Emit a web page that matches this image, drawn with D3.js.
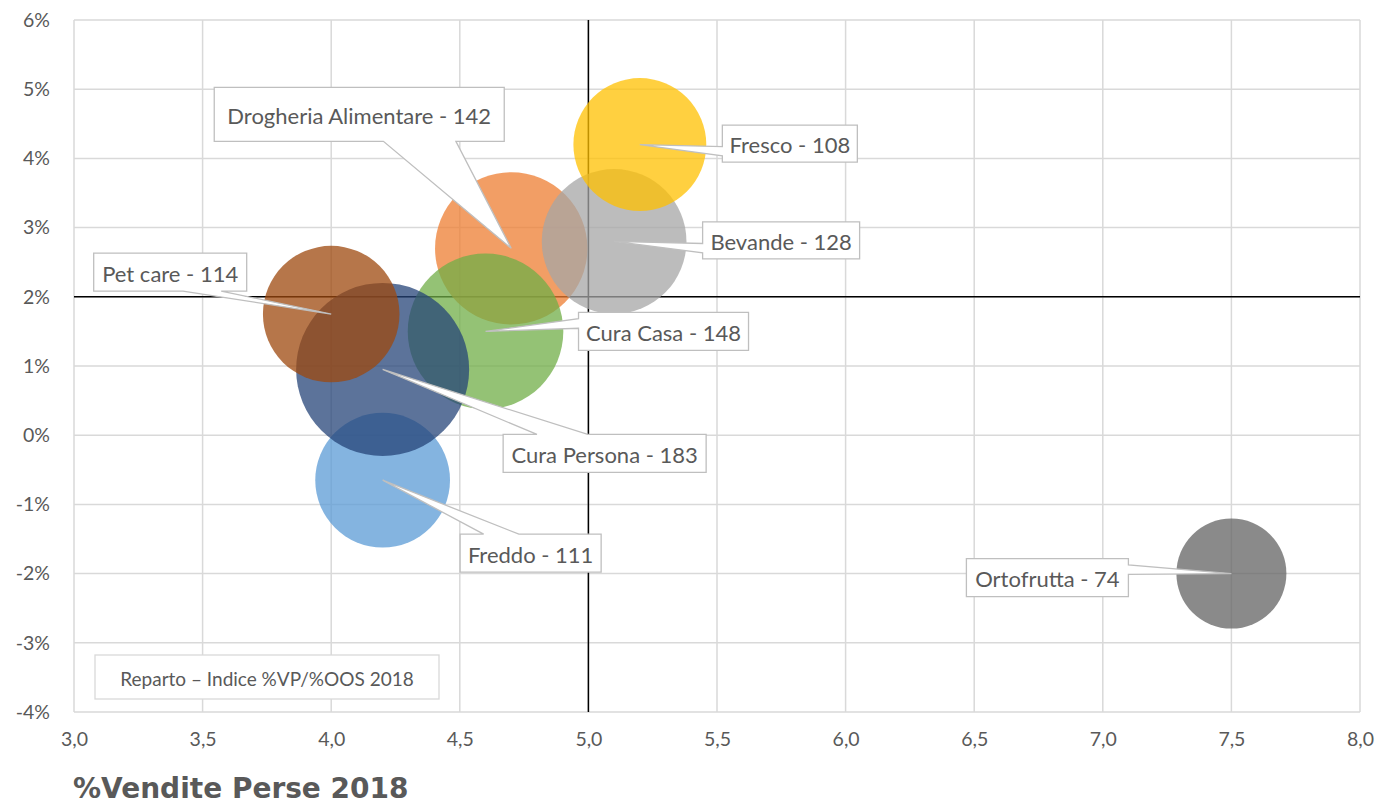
<!DOCTYPE html>
<html>
<head>
<meta charset="utf-8">
<script src="https://cdn.jsdelivr.net/npm/d3@7"></script>
<style>
  html, body { margin: 0; padding: 0; background: #fff; }
  svg { display: block; }
</style>
</head>
<body>
<svg id="chart" width="1376" height="805"></svg>
<script>
// Reparti: %OOS (x), %Vendite Perse (y), Indice %VP/%OOS (bubble size)
const categories = ["Drogheria Alimentare", "Bevande", "Fresco", "Freddo", "Cura Casa", "Cura Persona", "Pet care", "Ortofrutta"];
const xValues = [4.7, 5.1, 5.2, 4.2, 4.6, 4.2, 4.0, 7.5];
const yValues = [2.7, 2.8, 4.2, -0.65, 1.5, 0.95, 1.75, -2.0];
const indexValues = [142, 128, 108, 111, 148, 183, 114, 74];
const colors = ["#ED7D31", "#A5A5A5", "#FFC000", "#5B9BD5", "#70AD47", "#264478", "#9E480E", "#636363"];

const xTicks = [3.0, 3.5, 4.0, 4.5, 5.0, 5.5, 6.0, 6.5, 7.0, 7.5, 8.0];
const yTicks = [-4, -3, -2, -1, 0, 1, 2, 3, 4, 5, 6];
const xCross = 5.0;   // value axis crosses here
const yCross = 2;     // category axis crosses here

const captionText = "Reparto \u2013 Indice %VP/%OOS 2018";
const titleText = "%Vendite Perse 2018";

// Callout placement: box centre offset from the point, box size (px)
const calloutLayout = [
  { dx: -152, dy: -134, w: 290, h: 54 },
  { dx: 167, dy: -1, w: 157, h: 37 },
  { dx: 150, dy: -1, w: 135, h: 37 },
  { dx: 148, dy: 73, w: 141, h: 38 },
  { dx: 178, dy: 0, w: 170, h: 38 },
  { dx: 222, dy: 84, w: 203, h: 38 },
  { dx: -161, dy: -42, w: 153, h: 38 },
  { dx: -184, dy: 4, w: 162, h: 38 }
];

const plot = { left: 74, top: 20, right: 1360, bottom: 712 };
const textColor = "#595959";
const gridColor = "#d9d9d9";
const labelFont = "Lato, 'Open Sans', sans-serif";

const svg = d3.select("#chart");

const x = d3.scaleLinear().domain([3, 8]).range([plot.left, plot.right]);
const y = d3.scaleLinear().domain([-4, 6]).range([plot.bottom, plot.top]);
const r = d3.scaleSqrt().domain([0, 183]).range([0, 86.5]);

const itLocale = d3.formatLocale({ decimal: ",", thousands: ".", grouping: [3], currency: ["", "\u00a0\u20ac"] });
const fmtX = itLocale.format(".1f");

// Gridlines
const grid = svg.append("g");
grid.selectAll("line.v").data(xTicks).join("line")
  .attr("x1", d => x(d)).attr("x2", d => x(d))
  .attr("y1", plot.top).attr("y2", plot.bottom)
  .attr("stroke", gridColor).attr("stroke-width", 1.5);
grid.selectAll("line.h").data(yTicks).join("line")
  .attr("x1", plot.left).attr("x2", plot.right)
  .attr("y1", d => y(d)).attr("y2", d => y(d))
  .attr("stroke", gridColor).attr("stroke-width", 1.5);

// Crossing axes
svg.append("line")
  .attr("x1", x(xCross)).attr("x2", x(xCross))
  .attr("y1", plot.top).attr("y2", plot.bottom)
  .attr("stroke", "#000").attr("stroke-width", 1.5);
svg.append("line")
  .attr("x1", plot.left).attr("x2", plot.right)
  .attr("y1", y(yCross)).attr("y2", y(yCross))
  .attr("stroke", "#000").attr("stroke-width", 1.5);

// Tick labels
const xAxis = d3.axisBottom(x).tickValues(xTicks).tickFormat(fmtX).tickSize(0).tickPadding(0);
const gx = svg.append("g").attr("transform", `translate(0,${plot.bottom + 20})`).call(xAxis);
const yAxis = d3.axisLeft(y).tickValues(yTicks).tickFormat(d => d + "%").tickSize(0).tickPadding(0);
const gy = svg.append("g").attr("transform", `translate(${plot.left - 24},0)`).call(yAxis);
[gx, gy].forEach(g => {
  g.select(".domain").remove();
  g.selectAll("text").attr("fill", textColor).style("font-family", labelFont).style("font-size", "19.5px");
});
gx.selectAll("text").attr("dy", "0.71em");

// Bubbles
const rows = categories.map((c, i) => ({
  name: c, xv: xValues[i], yv: yValues[i], v: indexValues[i], color: colors[i], lay: calloutLayout[i]
}));

svg.append("g").selectAll("circle").data(rows).join("circle")
  .attr("cx", d => x(d.xv)).attr("cy", d => y(d.yv)).attr("r", d => r(d.v))
  .attr("fill", d => d.color).attr("fill-opacity", 0.75);

// Rectangular callout with a wedge pointing at (tx, ty)
function calloutPath(x0, y0, w, h, tx, ty) {
  const cx = x0 + w / 2, cy = y0 + h / 2;
  const dxp = (tx - cx) / w, dyp = (ty - cy) / h;
  const xa = x0 + w * (dxp > 0 ? 7 : 2) / 12, xb = x0 + w * (dxp > 0 ? 10 : 5) / 12;
  const ya = y0 + h * (dyp > 0 ? 7 : 2) / 12, yb = y0 + h * (dyp > 0 ? 10 : 5) / 12;
  const horiz = Math.abs(dxp) > Math.abs(dyp);
  const side = horiz ? (dxp > 0 ? "r" : "l") : (dyp > 0 ? "b" : "t");
  const p = d3.path();
  p.moveTo(x0, y0);
  if (side === "t") { p.lineTo(xa, y0); p.lineTo(tx, ty); p.lineTo(xb, y0); }
  p.lineTo(x0 + w, y0);
  if (side === "r") { p.lineTo(x0 + w, ya); p.lineTo(tx, ty); p.lineTo(x0 + w, yb); }
  p.lineTo(x0 + w, y0 + h);
  if (side === "b") { p.lineTo(xb, y0 + h); p.lineTo(tx, ty); p.lineTo(xa, y0 + h); }
  p.lineTo(x0, y0 + h);
  if (side === "l") { p.lineTo(x0, yb); p.lineTo(tx, ty); p.lineTo(x0, ya); }
  p.closePath();
  return p.toString();
}

const labels = svg.append("g").selectAll("g").data(rows).join("g");
labels.append("path")
  .attr("d", d => {
    const tx = x(d.xv), ty = y(d.yv);
    const bx = tx + d.lay.dx - d.lay.w / 2, by = ty + d.lay.dy - d.lay.h / 2;
    return calloutPath(bx, by, d.lay.w, d.lay.h, tx, ty);
  })
  .attr("fill", "#fff").attr("stroke", "#bfbfbf").attr("stroke-width", 1.3)
  .attr("stroke-linejoin", "miter");
labels.append("text")
  .attr("x", d => x(d.xv) + d.lay.dx)
  .attr("y", d => y(d.yv) + d.lay.dy + 1)
  .attr("text-anchor", "middle").attr("dominant-baseline", "central")
  .attr("fill", textColor)
  .style("font-family", labelFont).style("font-size", "22px")
  .text(d => `${d.name} - ${d.v}`);

// Caption box inside the plot
const cap = svg.append("g");
cap.append("rect").attr("x", 95).attr("y", 655).attr("width", 344).attr("height", 44)
  .attr("fill", "#fff").attr("stroke", gridColor).attr("stroke-width", 1.3);
cap.append("text").attr("x", 95 + 172).attr("y", 678)
  .attr("text-anchor", "middle").attr("dominant-baseline", "central")
  .attr("fill", textColor).style("font-family", labelFont).style("font-size", "19px")
  .text(captionText);

// Axis title
svg.append("text").attr("x", 73).attr("y", 798)
  .attr("fill", textColor)
  .style("font-family", "'DejaVu Sans', Verdana, sans-serif").style("font-weight", "bold").style("font-size", "28px")
  .text(titleText);
</script>
</body>
</html>
